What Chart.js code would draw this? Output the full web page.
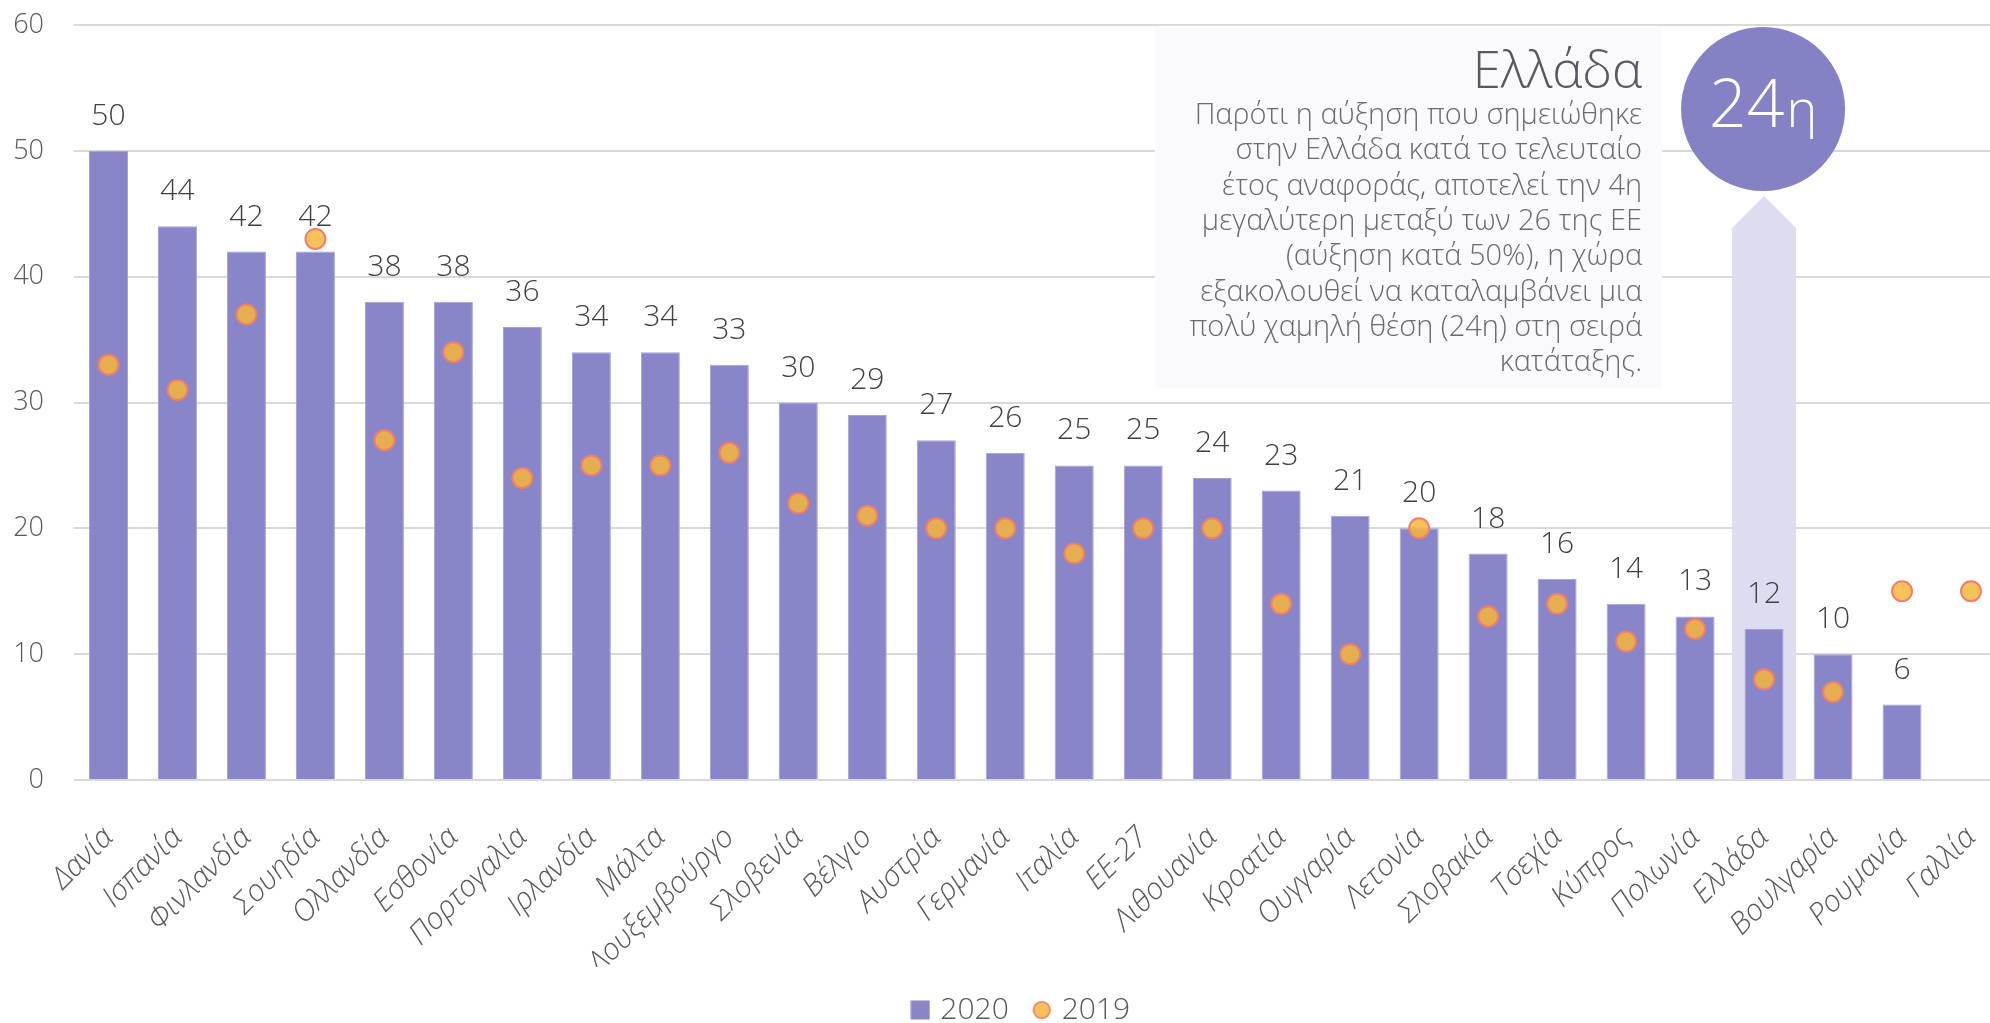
<!DOCTYPE html>
<html><head><meta charset="utf-8">
<script src="https://cdn.jsdelivr.net/npm/chart.js@4.4.1/dist/chart.umd.min.js"></script>
<style>
html,body{margin:0;padding:0;background:#fff;overflow:hidden;width:1990px;height:1023px}
#wrap{position:absolute;left:0;top:0;width:2046px;height:1035px}
</style></head><body>
<div id="wrap"><canvas id="c"></canvas></div>
<script>
const categories = ['Δανία','Ισπανία','Φινλανδία','Σουηδία','Ολλανδία','Εσθονία','Πορτογαλία','Ιρλανδία','Μάλτα','Λουξεμβούργο','Σλοβενία','Βέλγιο','Αυστρία','Γερμανία','Ιταλία','ΕΕ-27','Λιθουανία','Κροατία','Ουγγαρία','Λετονία','Σλοβακία','Τσεχία','Κύπρος','Πολωνία','Ελλάδα','Βουλγαρία','Ρουμανία','Γαλλία'];
const values2020 = [50,44,42,42,38,38,36,34,34,33,30,29,27,26,25,25,24,23,21,20,18,16,14,13,12,10,6,null];
const values2019 = [33,31,37,43,27,34,24,25,25,26,22,21,20,20,18,20,20,14,10,20,13,14,11,12,8,7,15,15];
const seriesNames = ['2020','2019'];
const yTickValues = [0,10,20,30,40,50,60];
const highlightCategory = 'Ελλάδα';
const noteTitle = 'Ελλάδα';
const noteLines = [
  'Παρότι η αύξηση που σημειώθηκε',
  'στην Ελλάδα κατά το τελευταίο',
  'έτος αναφοράς, αποτελεί την 4η',
  'μεγαλύτερη μεταξύ των 26 της ΕΕ',
  '(αύξηση κατά 50%), η χώρα',
  'εξακολουθεί να καταλαμβάνει μια',
  'πολύ χαμηλή θέση (24η) στη σειρά',
  'κατάταξης.'
];
const rankNumber = '24';
const rankSuffix = 'η';

const FONT = '"Open Sans", "Noto Sans", sans-serif';
const BAR = '#8886c8';

function makeIcon(kind){
  const c = document.createElement('canvas');
  c.width = 20; c.height = 20;
  const g = c.getContext('2d');
  if (kind === 'rect') { g.fillStyle = BAR; g.fillRect(0.5,0.5,19,19); }
  else { g.beginPath(); g.arc(10,10,8.3,0,Math.PI*2); g.fillStyle='#f7c05a'; g.fill(); g.lineWidth=1.6; g.strokeStyle='#ef7f6b'; g.stroke(); }
  return c;
}
const icons = [makeIcon('rect'), makeIcon('circle')];

const noLabelClip = {
  id:'noLabelClip',
  beforeDraw(chart){ const s = chart.scales.y; if (s) s._computeLabelArea = () => undefined; }
};

const annotation = {
  id:'annotation',
  beforeDatasetsDraw(chart){
    const {ctx, chartArea, scales:{x, y}} = chart;
    const idx = categories.indexOf(highlightCategory);
    const cx = x.getPixelForValue(idx);
    const top = chartArea.top;
    const base = y.getPixelForValue(0);
    ctx.save();
    ctx.fillStyle = '#dedcf0';
    ctx.beginPath();
    ctx.moveTo(cx-32, base);
    ctx.lineTo(cx-32, top+203);
    ctx.lineTo(cx, top+171);
    ctx.lineTo(cx+32, top+203);
    ctx.lineTo(cx+32, base);
    ctx.closePath();
    ctx.fill();
    const bx0 = cx - 609, bx1 = cx - 102;
    ctx.fillStyle = '#fafafc';
    ctx.fillRect(bx0, top+3, bx1-bx0, 360);
    ctx.textAlign = 'right';
    ctx.textBaseline = 'alphabetic';
    ctx.fillStyle = '#5a5862';
    ctx.font = '300 51px ' + FONT;
    ctx.fillText(noteTitle, bx1 - 20, top + 63);
    ctx.fillStyle = '#6b6972';
    ctx.font = '300 29px ' + FONT;
    noteLines.forEach((t,i)=>ctx.fillText(t, bx1 - 20, top + 99 + i*35.3));
    ctx.beginPath();
    ctx.arc(cx-1, top+84, 82, 0, Math.PI*2);
    ctx.fillStyle = '#8481c5';
    ctx.fill();
    ctx.fillStyle = '#ffffff';
    ctx.textAlign = 'left';
    ctx.font = '300 66px ' + FONT;
    const w1 = ctx.measureText(rankNumber).width;
    ctx.font = '300 52px ' + FONT;
    const w2 = ctx.measureText(rankSuffix).width;
    const sx = cx - 1 - (w1 + w2 + 2)/2;
    ctx.font = '300 66px ' + FONT;
    ctx.fillText(rankNumber, sx, top + 102);
    ctx.font = '300 52px ' + FONT;
    ctx.fillText(rankSuffix, sx + w1 + 2, top + 102);
    ctx.restore();
  }
};

const barLabels = {
  id:'barLabels',
  afterDatasetsDraw(chart){
    const meta = chart.getDatasetMeta(0);
    const ctx = chart.ctx;
    ctx.save();
    ctx.font = '300 30px ' + FONT;
    ctx.fillStyle = '#404040';
    ctx.textAlign = 'center';
    ctx.textBaseline = 'alphabetic';
    meta.data.forEach((el,i)=>{
      const v = values2020[i];
      if (v == null) return;
      ctx.fillText(String(v), el.x, el.y - 26);
    });
    ctx.restore();
  }
};

new Chart(document.getElementById('c'), {
  data: {
    labels: categories,
    datasets: [
      { type:'bar', label: seriesNames[0], data: values2020, backgroundColor: BAR, borderColor:'#a3a1d8', borderWidth:1,
        barPercentage: 0.565, categoryPercentage: 1, order: 2 },
      { type:'line', label: seriesNames[1], data: values2019, showLine:false, pointRadius:10, pointHoverRadius:10,
        pointBackgroundColor:'rgba(246,182,58,0.84)', pointBorderColor:'#ef7f6b', pointBorderWidth:2, order: 1 }
    ]
  },
  options: {
    responsive: true, maintainAspectRatio: false, animation: false, devicePixelRatio: 1,
    layout: { padding: { top: 25, right: 40.5, left: 40, bottom: 0 } },
    plugins: {
      tooltip: { enabled: false },
      legend: {
        position: 'bottom',
        labels: {
          usePointStyle: true, boxWidth: 10, boxHeight: 19, padding: 28,
          color: '#595959', font: { family: FONT, size: 30, weight: 300 },
          generateLabels(chart){
            const items = Chart.defaults.plugins.legend.labels.generateLabels(chart);
            items.forEach(it => { it.pointStyle = icons[it.datasetIndex]; });
            return items.sort((a,b)=>a.datasetIndex-b.datasetIndex);
          }
        }
      }
    },
    scales: {
      x: {
        grid: { display: false }, border: { display: false },
        ticks: { autoSkip: false, maxRotation: 45, minRotation: 45, padding: 32, color: '#595959',
          font: { family: FONT, size: 30, style: 'italic', weight: 300 } },
        afterFit(s){ s.height = 187; }
      },
      y: {
        min: 0, max: 60,
        afterBuildTicks(s){ s.ticks = yTickValues.map(v=>({value:v})); },
        grid: { color: '#d9d9d9', lineWidth: 2, drawTicks: false },
        border: { display: false },
        ticks: { padding: 30, color: '#595959', font: { family: FONT, size: 27, weight: 300 } },
        afterFit(s){ s.width = 34; s.paddingTop = 0; s.paddingBottom = 0; }
      }
    }
  },
  plugins: [noLabelClip, annotation, barLabels]
});
</script>
</body></html>
